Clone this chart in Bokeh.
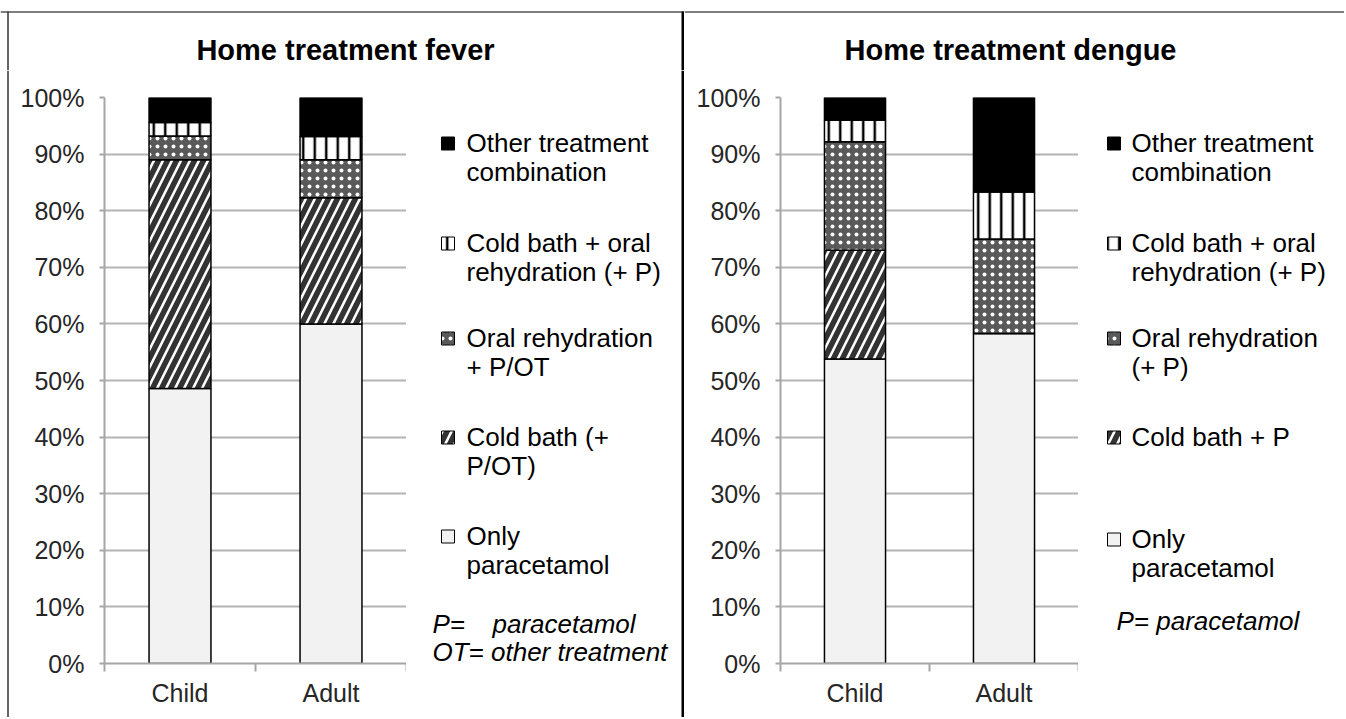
from bokeh.plotting import figure
from bokeh.models import FixedTicker, Range1d, PrintfTickFormatter, ColumnDataSource
from bokeh.core.properties import value
from bokeh.layouts import row, column
from bokeh.embed import file_html
from bokeh.resources import INLINE
import numpy as np

# ---------------- data ----------------
groups = ["Child", "Adult"]

fever_series = ["Only paracetamol", "Cold bath (+ P/OT)", "Oral rehydration + P/OT",
                "Cold bath + oral rehydration (+ P)", "Other treatment combination"]
fever_child = [48.6, 40.4, 4.2, 2.4, 4.4]
fever_adult = [60.0, 22.3, 6.7, 4.1, 6.9]

dengue_series = ["Only paracetamol", "Cold bath + P", "Oral rehydration (+ P)",
                 "Cold bath + oral rehydration (+ P)", "Other treatment combination"]
dengue_child = [53.8, 19.2, 19.2, 3.8, 4.0]
dengue_adult = [58.3, 0.0, 16.7, 8.3, 16.7]

# legend texts (top series first), wrapped as in the original
fever_legend = [["Other treatment", "combination"], ["Cold bath + oral", "rehydration (+ P)"],
                ["Oral rehydration", "+ P/OT"], ["Cold bath (+", "P/OT)"], ["Only", "paracetamol"]]
dengue_legend = [["Other treatment", "combination"], ["Cold bath + oral", "rehydration (+ P)"],
                 ["Oral rehydration", "(+ P)"], ["Cold bath + P"], ["Only", "paracetamol"]]

y_ticks = list(range(0, 101, 10))

# ---------------- styles (bottom to top) ----------------
STYLES = [
    dict(fill_color="#f2f2f2"),
    dict(fill_color="white", hatch_pattern="/", hatch_color="#333333", hatch_scale=18, hatch_weight=5.5),
    dict(fill_color="#595959", hatch_pattern=".", hatch_color="white", hatch_scale=8, hatch_weight=1.5),
    dict(fill_color="white", hatch_pattern="|", hatch_color="black", hatch_scale=11.5, hatch_weight=2.5),
    dict(fill_color="black"),
]

FONT = "Liberation Sans"
TOP_H = 70          # page y where charts start
BOTTOM = 717        # page y of bottom of everything
FRAME_TOP, FRAME_BOTTOM = 97, 663
TXT_DY = -1         # text anchor relative to visual centre of a line


def aux_fig(x0, x1, y0, y1):
    """A figure with no axes whose frame maps 1 unit = 1 page pixel."""
    f = figure(width=x1 - x0, height=y1 - y0, x_range=Range1d(x0, x1), y_range=Range1d(y1, y0),
               x_axis_type=None, y_axis_type=None, output_backend="svg", toolbar_location=None,
               min_border=0, min_border_left=0, min_border_right=0, min_border_top=0,
               min_border_bottom=0, title=None, frame_align=False)
    f.outline_line_color = None
    f.grid.visible = False
    f.background_fill_color = "white"
    f.border_fill_color = "white"
    return f


def chart_fig(child, adult, page_left, frame_left, frame_right):
    p = figure(width=frame_right - page_left, height=BOTTOM - TOP_H,
               x_range=Range1d(0, len(groups)), y_range=Range1d(0, 100),
               output_backend="svg", toolbar_location=None, title=None, frame_align=False,
               min_border_left=frame_left - page_left, min_border_right=0,
               min_border_top=FRAME_TOP - TOP_H, min_border_bottom=BOTTOM - FRAME_BOTTOM)
    p.outline_line_color = None
    p.background_fill_color = "white"
    p.border_fill_color = "white"

    vals = np.array([child, adult]).T  # series x groups
    tops = np.cumsum(vals, axis=0)
    bottoms = tops - vals
    xs = [i + 0.5 for i in range(len(groups))]
    for k in range(vals.shape[0]):
        src = ColumnDataSource(dict(x=xs, bottom=bottoms[k], top=tops[k]))
        p.vbar(x="x", width=0.41, bottom="bottom", top="top", source=src,
               line_color="black", line_width=1.5, **STYLES[k])

    xa = p.xaxis[0]
    xa.ticker = FixedTicker(ticks=xs, minor_ticks=list(range(len(groups) + 1)))
    xa.major_label_overrides = {x: g for x, g in zip(xs, groups)}
    xa.major_tick_line_color = None
    xa.major_tick_out = 0
    xa.major_tick_in = 0
    xa.minor_tick_out = 8
    xa.minor_tick_in = 0
    xa.minor_tick_line_color = "#a6a6a6"
    xa.minor_tick_line_width = 2
    xa.axis_line_color = "#a6a6a6"
    xa.axis_line_width = 2
    xa.major_label_text_font = FONT
    xa.major_label_text_font_size = "25px"
    xa.major_label_text_color = "#262626"
    xa.major_label_standoff = 7

    ya = p.yaxis[0]
    ya.ticker = FixedTicker(ticks=y_ticks)
    ya.formatter = PrintfTickFormatter(format="%d%%")
    ya.major_tick_out = 5
    ya.major_tick_in = 0
    ya.minor_tick_line_color = None
    ya.major_tick_line_color = "#a6a6a6"
    ya.major_tick_line_width = 2
    ya.axis_line_color = "#a6a6a6"
    ya.axis_line_width = 2
    ya.major_label_text_font = FONT
    ya.major_label_text_font_size = "25px"
    ya.major_label_text_color = "#262626"
    ya.major_label_standoff = 15

    p.xgrid.grid_line_color = None
    p.ygrid.ticker = FixedTicker(ticks=y_ticks)
    p.ygrid.grid_line_color = "#b3b3b3"
    p.ygrid.grid_line_width = 2
    return p


def legend_fig(legend, x0, x1, sq_left, txt_left, centers, notes, divider=False):
    f = aux_fig(x0, x1, TOP_H, BOTTOM)
    sq = 13
    for j, lines in enumerate(legend):
        k = len(legend) - 1 - j
        c = centers[j]
        f.quad(left=[sq_left], right=[sq_left + sq], top=[c - sq / 2], bottom=[c + sq / 2],
               line_color="black", line_width=1, **STYLES[k])
        f.text(x=[txt_left] * len(lines), y=[c + TXT_DY + 29 * i for i in range(len(lines))], text=lines,
               text_font=value(FONT), text_font_size=value("26px"), text_color="black",
               text_baseline="alphabetic", text_align="left")
    for (t, px, py) in notes:
        f.text(x=[px], y=[py + TXT_DY], text=[t], text_font=value(FONT), text_font_size=value("26px"),
               text_font_style="italic", text_color="black", text_baseline="alphabetic",
               text_align="left")
    if divider:
        f.segment(x0=[682.5], y0=[TOP_H], x1=[682.5], y1=[BOTTOM + 5], line_color="black", line_width=3)
    return f


def title_fig(title, x0, x1, cx, left_border=False, divider=False):
    f = aux_fig(x0, x1, 0, TOP_H)
    f.segment(x0=[x0], y0=[11.5], x1=[x1], y1=[11.5], line_color="#555555", line_width=1.5)
    if left_border:
        f.segment(x0=[7.5], y0=[11], x1=[7.5], y1=[TOP_H], line_color="#333333", line_width=1.5)
    if divider:
        f.segment(x0=[682.5], y0=[11], x1=[682.5], y1=[TOP_H], line_color="black", line_width=3)
    f.text(x=[cx], y=[50 + TXT_DY], text=[title], text_font=value(FONT), text_font_size=value("29px"),
           text_font_style="bold", text_color="black", text_align="center",
           text_baseline="alphabetic")
    return f


# left border strip
strip = aux_fig(0, 9, TOP_H, BOTTOM)
strip.segment(x0=[7.5], y0=[TOP_H], x1=[7.5], y1=[BOTTOM + 5], line_color="#333333", line_width=1.5)

left_title = title_fig("Home treatment fever", 0, 684, 345, left_border=True, divider=True)
left_chart = chart_fig(fever_child, fever_adult, page_left=9, frame_left=104, frame_right=406)
left_legend = legend_fig(fever_legend, 406, 684, sq_left=441, txt_left=466,
                         centers=[143, 243, 338, 437, 536],
                         notes=[("P=", 432, 624), ("paracetamol", 492, 624),
                                ("OT= other treatment", 432, 652)],
                         divider=True)

right_title = title_fig("Home treatment dengue", 684, 1344, 1010)
right_chart = chart_fig(dengue_child, dengue_adult, page_left=684, frame_left=780, frame_right=1078)
right_legend = legend_fig(dengue_legend, 1078, 1344, sq_left=1107, txt_left=1131,
                          centers=[143, 243, 338, 437, 539],
                          notes=[("P= paracetamol", 1116, 621)])

left_panel = column(left_title, row(strip, left_chart, left_legend, spacing=0), spacing=0)
right_panel = column(right_title, row(right_chart, right_legend, spacing=0), spacing=0)
layout = row(left_panel, right_panel, spacing=0)

open("out.html", "w").write(file_html(layout, INLINE))
